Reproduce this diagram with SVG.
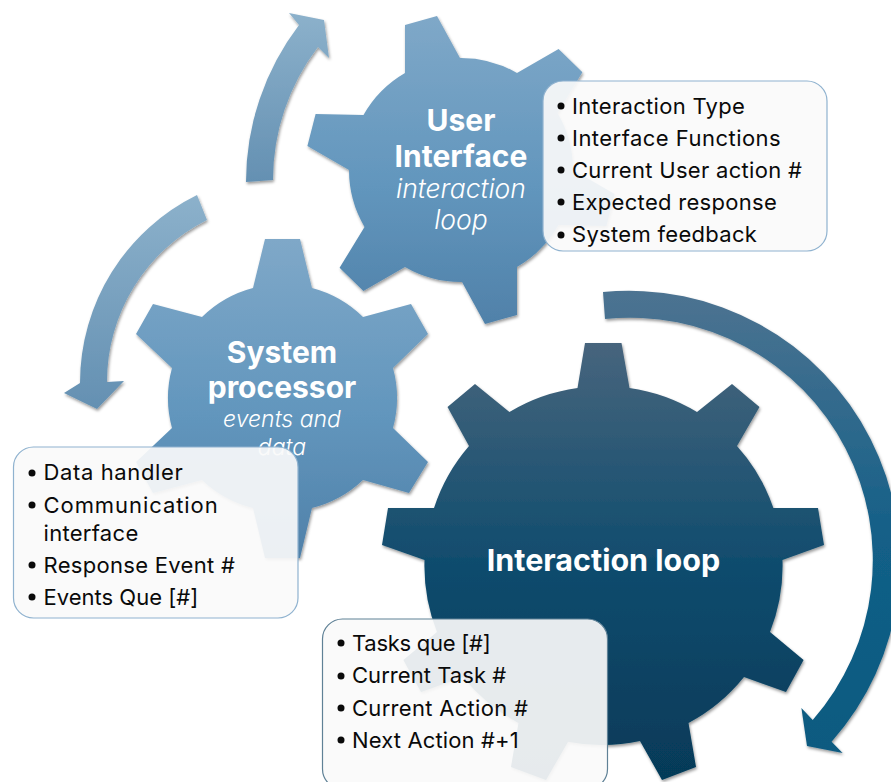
<svg xmlns="http://www.w3.org/2000/svg" width="891" height="782" viewBox="0 0 891 782">
<style>
text{font-family:"Inter","Noto Sans","Liberation Sans",sans-serif}
.h{font-size:30px;font-weight:700;fill:#fff;text-anchor:middle}
.i{font-size:26.500px;font-style:italic;font-weight:300;fill:#fff;text-anchor:middle}
.l{font-size:22px;letter-spacing:.3px;fill:#0a0a0a}
.box{fill:#fafafa;fill-opacity:.92;stroke:#8fb2cf;stroke-width:1.2}
.gear,.arrow{filter:url(#sh)}
.b{fill:#0a0a0a}
</style>
<defs>
<filter id="sh" x="-10%" y="-10%" width="120%" height="120%"><feDropShadow dx="1" dy="2" stdDeviation="1.6" flood-color="#000" flood-opacity=".4"/></filter>
<linearGradient id="g1" x1="0" y1="0" x2="0" y2="1"><stop offset="0" stop-color="#7fa8c8"/><stop offset=".55" stop-color="#6296bd"/><stop offset="1" stop-color="#5081a9"/></linearGradient>
<linearGradient id="g3" x1="0" y1="0" x2="0" y2="1"><stop offset="0" stop-color="#47657d"/><stop offset=".55" stop-color="#0b4a6c"/><stop offset="1" stop-color="#063a58"/></linearGradient>
<linearGradient id="a1" x1="0" y1="0" x2="0" y2="1"><stop offset="0" stop-color="#8cb1cb"/><stop offset="1" stop-color="#6490b2"/></linearGradient>
<linearGradient id="a3" x1="0" y1="0" x2="0" y2="1"><stop offset="0" stop-color="#4d7391"/><stop offset=".55" stop-color="#125f87"/><stop offset="1" stop-color="#0c5a80"/></linearGradient>
</defs>
<g id="connectors">
<path class="arrow" fill="url(#a1)" d="M246,182A259,259 0 0 1 299,25L289,13L324,20L329,58L318,47A219,219 0 0 0 273,180Z"/>
<path class="arrow" fill="url(#a1)" d="M197,195A209.500,209.500 0 0 0 80,383L64,393L97,409L124,381L107,382A181,181 0 0 1 207,220Z"/>
<path class="arrow" fill="url(#a3)" d="M603,292A271,271 0 0 1 831.600,741.700L842.600,753L807,746L801.400,708L812.700,720A242.500,242.500 0 0 0 605,319Z"/>
</g>
<g id="node-user-interface">
<path class="gear" fill="url(#g1)" d="M405,73L405,25L437,16L460,58A112,112 0 0 1 517,73L558.600,49L582.400,72.200L557.500,113.100A112,112 0 0 1 573,170L614.600,194L606.400,226L558.500,225A112,112 0 0 1 517,267L517,315L485,324L462,282A112,112 0 0 1 405,267L363.400,291L339.600,267.800L364.500,226.900A112,112 0 0 1 349,170L307.400,146L315.600,114L363.500,115A112,112 0 0 1 405,73Z"/>
<text class="h" x="461" y="130.500">User</text>
<text class="h" x="461" y="166.500">Interface</text>
<text class="i" x="461" y="198">interaction</text>
<text class="i" x="461" y="229">loop</text>
</g>
<g id="node-system-processor">
<path class="gear" fill="url(#g1)" d="M253,288L265,239L300,239L312,288A114,114 0 0 1 363,317L411,304L428,334L393,368A114,114 0 0 1 393,428L428,462L409,493L363,480A114,114 0 0 1 312,508L300,558L265,558L253,508A114,114 0 0 1 202,480L153,493L136,462L172,428A114,114 0 0 1 172,368L136,334L153,304L202,317A114,114 0 0 1 253,288Z"/>
<text class="h" x="282" y="362.500">System</text>
<text class="h" x="282" y="398">processor</text>
<text class="i" x="282" y="427" style="font-size:23px">events and</text>
<text class="i" x="282" y="455" style="font-size:23px">data</text>
</g>
<g id="node-interaction-loop">
<path class="gear" fill="url(#g3)" d="M577.500,388L585,343L621.500,343L629.500,388A180,180 0 0 1 697,412L732,384L759.500,407L737,446A180,180 0 0 1 773.400,508L818,508L824,545L782.500,560A180,180 0 0 1 770,632L803.600,660L786,692L744,677A180,180 0 0 1 688.500,723L696,767L662,780L640,741A180,180 0 0 1 568,741.700L546,780L511,767L518.500,723A180,180 0 0 1 463,677L421,692L403.400,660L437,632A180,180 0 0 1 424.500,560L382,545L388,508L434,508A180,180 0 0 1 469,446L447.500,407L475,384L509.400,412A180,180 0 0 1 577.500,388Z"/>
<text class="h" x="603.500" y="571" style="font-size:30.500px">Interaction loop</text>
</g>
<g id="node-user-interface-list">
<rect class="box" x="543" y="81" width="284" height="170" rx="20"/>
<g class="b"><circle cx="561" cy="106" r="3.500"/><circle cx="561" cy="138" r="3.500"/><circle cx="561" cy="170" r="3.500"/><circle cx="561" cy="202" r="3.500"/><circle cx="561" cy="235" r="3.500"/></g>
<text class="l" x="572" y="114">Interaction Type</text>
<text class="l" x="572" y="146" textLength="209">Interface Functions</text>
<text class="l" x="572" y="178">Current User action #</text>
<text class="l" x="572" y="210">Expected response</text>
<text class="l" x="572" y="242">System feedback</text>
</g>
<g id="node-system-list">
<rect class="box" x="13.500" y="447" width="284.500" height="171" rx="20"/>
<g class="b"><circle cx="32" cy="473" r="3.500"/><circle cx="32" cy="505" r="3.500"/><circle cx="32" cy="565" r="3.500"/><circle cx="32" cy="597" r="3.500"/></g>
<text class="l" x="43.500" y="480" textLength="139.500">Data handler</text>
<text class="l" x="43.500" y="513" textLength="174.500">Communication</text>
<text class="l" x="43.500" y="541">interface</text>
<text class="l" x="43.500" y="573">Response Event #</text>
<text class="l" x="43.500" y="605" textLength="155">Events Que [#]</text>
</g>
<g id="node-loop-list">
<rect class="box" x="322.500" y="619" width="285" height="170" rx="20" style="stroke:#5f8196"/>
<g class="b"><circle cx="341" cy="643" r="3.500"/><circle cx="341" cy="676" r="3.500"/><circle cx="341" cy="708" r="3.500"/><circle cx="341" cy="740" r="3.500"/></g>
<text class="l" x="352" y="651" textLength="139">Tasks que [#]</text>
<text class="l" x="352" y="683" textLength="154.500">Current Task #</text>
<text class="l" x="352" y="716">Current Action #</text>
<text class="l" x="352" y="748" textLength="167">Next Action #+1</text>
</g>
</svg>
